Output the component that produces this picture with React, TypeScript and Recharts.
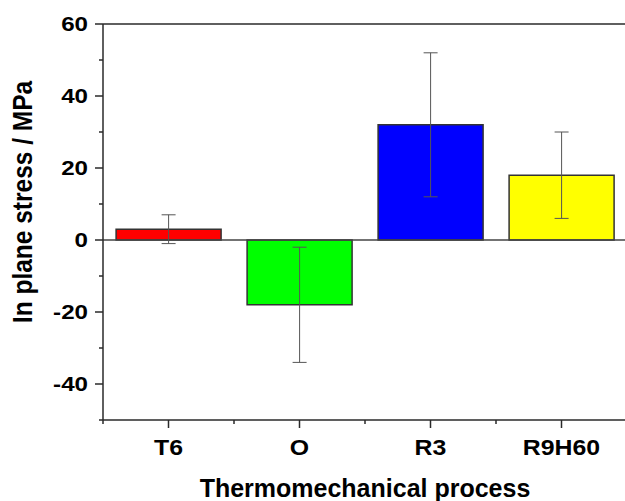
import React from 'react';
import { BarChart, Bar, XAxis, YAxis, Cell, ErrorBar, ReferenceLine } from 'recharts';

const categories = ['T6', 'O', 'R3', 'R9H60'];
const stressValues = [3, -18, 32, 18];
const stressErrors = [4, 16, 20, 12];
const barColors = ['#ff0000', '#00ff00', '#0000ff', '#ffff00'];
const yTicks = [-50, -40, -30, -20, -10, 0, 10, 20, 30, 40, 50, 60];

const data = categories.map((c, i) => ({ name: c, value: stressValues[i], err: stressErrors[i] }));

const FONT = '"Liberation Sans", Arial, sans-serif';
const AXIS = '#2a2a2a';

const YTick = (props: any) => {
  const { x, y, payload } = props;
  const v = payload.value;
  const major = v % 20 === 0;
  const tx = x - 15;
  const ty = y + 7;
  return (
    <g>
      <line x1={x - (major ? 8 : 4)} x2={x} y1={y} y2={y} stroke={AXIS} strokeWidth={1.5} />
      {major && (
        <text
          transform={`translate(${tx} ${ty}) scale(1.15 1)`}
          textAnchor="end"
          fontFamily={FONT}
          fontWeight="bold"
          fontSize={21}
          fill="#000"
        >
          {v}
        </text>
      )}
    </g>
  );
};

const XTick = (props: any) => {
  const { x, y, payload } = props;
  const half = payload && typeof payload.offset === 'number' && payload.offset > 0 ? payload.offset : 65.5;
  return (
    <g>
      <line x1={x} x2={x} y1={y} y2={y + 8} stroke={AXIS} strokeWidth={1.5} />
      <line x1={x - half} x2={x - half} y1={y} y2={y + 4} stroke={AXIS} strokeWidth={1.5} />
      <text
        transform={`translate(${x} ${y + 35}) scale(1.13 1)`}
        textAnchor="middle"
        fontFamily={FONT}
        fontWeight="bold"
        fontSize={22}
        fill="#000"
      >
        {payload.value}
      </text>
    </g>
  );
};

const YLabel = (props: any) => {
  const vb = props.viewBox || {};
  const cy = (vb.y ?? 24) + (vb.height ?? 396) / 2 - 20;
  const cx = 32;
  return (
    <text
      transform={`translate(${cx} ${cy}) scale(1.15 1) rotate(-90)`}
      textAnchor="middle"
      fontFamily={FONT}
      fontWeight="bold"
      fontSize={24.5}
      fill="#000"
    >
      In plane stress / MPa
    </text>
  );
};

const XLabel = (props: any) => {
  const vb = props.viewBox || {};
  const cx = (vb.x ?? 103) + (vb.width ?? 524) / 2;
  return (
    <text x={cx} y={497} textAnchor="middle" fontFamily={FONT} fontWeight="bold" fontSize={25} fill="#000">
      Thermomechanical process
    </text>
  );
};

export default function App() {
  return (
    <div style={{ position: 'absolute', left: 0, top: 0, width: 625, height: 501, overflow: 'hidden', background: '#fff' }}>
      <BarChart width={640} height={501} data={data} margin={{ top: 24, right: 13, bottom: 0, left: 0 }} barCategoryGap="10%">
        <XAxis
          dataKey="name"
          height={81}
          tickSize={0}
          tickMargin={0}
          tick={<XTick />}
          tickLine={false}
          axisLine={{ stroke: AXIS, strokeWidth: 1.5 }}
          label={<XLabel />}
          interval={0}
        />
        <YAxis
          type="number"
          domain={[-50, 60]}
          ticks={yTicks}
          width={103}
          tickSize={0}
          tickMargin={0}
          tick={<YTick />}
          tickLine={false}
          axisLine={{ stroke: AXIS, strokeWidth: 1.5 }}
          label={<YLabel />}
          interval={0}
          allowDataOverflow
        />
        <ReferenceLine y={60} stroke={AXIS} strokeWidth={1.5} ifOverflow="extendDomain" />
        <ReferenceLine y={0} stroke="#444" strokeWidth={1.5} />
        <Bar dataKey="value" stroke="#333" strokeWidth={1.5} isAnimationActive={false}>
          {data.map((d, i) => (
            <Cell key={d.name} fill={barColors[i]} />
          ))}
          <ErrorBar dataKey="err" width={7} stroke="#555" strokeWidth={1} direction="y" />
        </Bar>
      </BarChart>
    </div>
  );
}
